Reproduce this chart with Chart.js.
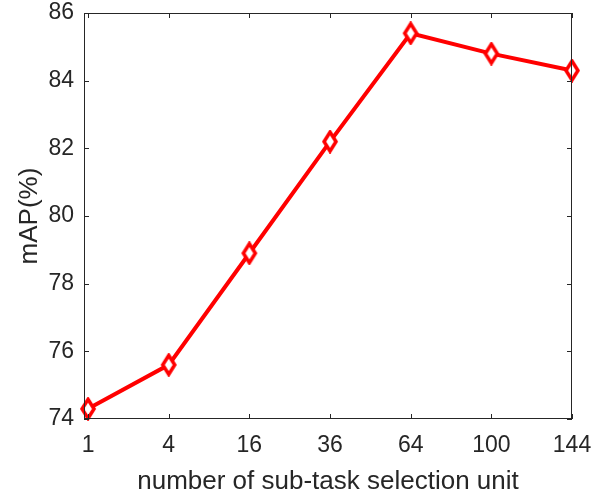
<!DOCTYPE html>
<html>
<head>
<meta charset="utf-8">
<script src="https://cdn.jsdelivr.net/npm/chart.js@4.4.1/dist/chart.umd.min.js"></script>
<style>
  html, body { margin: 0; padding: 0; background: #fff; }
  #wrap { width: 604px; height: 495px; }
</style>
</head>
<body>
<div id="wrap"><canvas id="c" width="604" height="495"></canvas></div>
<script>
// data
const unitLabels = ['1', '4', '16', '36', '64', '100', '144'];
const mapValues = [74.3, 75.6, 78.9, 82.2, 85.4, 84.8, 84.3];
const yTicks = [74, 76, 78, 80, 82, 84, 86];

const AXIS = '#262626';
const RED = '#ff0000';
const FONT = '"Liberation Sans", Arial, sans-serif';

// tall matlab-style diamond marker
function makeDiamond() {
    const w = 18, h = 24;
    const cv = document.createElement('canvas');
    cv.width = w; cv.height = h;
    const g = cv.getContext('2d');
    g.beginPath();
    g.moveTo(w / 2, 2.5); g.lineTo(w - 3, h / 2); g.lineTo(w / 2, h - 2.5); g.lineTo(3, h / 2);
    g.closePath();
    g.fillStyle = '#fff'; g.fill();
    g.lineWidth = 3.5; g.strokeStyle = RED; g.stroke();
    return cv;
}

// box + inward ticks on all four sides
const boxPlugin = {
    id: 'box',
    afterDatasetsDraw(chart) {
        const { ctx, chartArea: a, scales } = chart;
        const L = 5;
        ctx.save();
        ctx.strokeStyle = AXIS; ctx.lineWidth = 1;
        ctx.strokeRect(a.left + 0.5, a.top + 0.5, a.right - a.left - 1, a.bottom - a.top - 1);
        ctx.beginPath();
        scales.x.ticks.forEach((t, i) => {
            const x = Math.round(scales.x.getPixelForTick(i)) + 0.5;
            ctx.moveTo(x, a.bottom); ctx.lineTo(x, a.bottom - L);
            ctx.moveTo(x, a.top); ctx.lineTo(x, a.top + L);
        });
        scales.y.ticks.forEach((t, i) => {
            const y = Math.round(scales.y.getPixelForTick(i)) + 0.5;
            ctx.moveTo(a.left, y); ctx.lineTo(a.left + L, y);
            ctx.moveTo(a.right, y); ctx.lineTo(a.right - L, y);
        });
        ctx.stroke();
        ctx.restore();
    }
};

const points = mapValues.map((v, i) => ({ x: i + 1, y: v }));

new Chart(document.getElementById('c'), {
    type: 'line',
    data: {
        datasets: [{
            data: points,
            borderColor: RED,
            borderWidth: 4,
            tension: 0,
            pointStyle: makeDiamond(),
            pointRadius: 9,
            pointHoverRadius: 9,
            clip: false
        }]
    },
    options: {
        responsive: false,
        animation: false,
        events: [],
        layout: { padding: { top: 13, right: 32, left: 0, bottom: 0 } },
        plugins: { legend: { display: false }, tooltip: { enabled: false } },
        scales: {
            x: {
                type: 'linear',
                min: 0.95, max: 7,
                afterBuildTicks(s) { s.ticks = unitLabels.map((l, i) => ({ value: i + 1 })); },
                afterFit(s) { s.height = 76; s.paddingLeft = 0; s.paddingRight = 0; },
                grid: { display: false, drawTicks: false },
                border: { display: false },
                ticks: {
                    color: AXIS, font: { family: FONT, size: 23 }, padding: 13,
                    maxRotation: 0, autoSkip: false,
                    callback: (v) => unitLabels[Math.round(v) - 1]
                },
                title: {
                    display: true, text: 'number of sub-task selection unit',
                    color: AXIS, font: { family: FONT, size: 26 }, padding: { top: 0, bottom: -2 }
                }
            },
            y: {
                min: 74, max: 86,
                afterBuildTicks(s) { s.ticks = yTicks.map(v => ({ value: v })); },
                afterFit(s) { s.width = 84; s.paddingTop = 0; s.paddingBottom = 0; },
                grid: { display: false, drawTicks: false },
                border: { display: false },
                ticks: { color: AXIS, font: { family: FONT, size: 23 }, padding: 10 },
                title: {
                    display: true, text: 'mAP(%)',
                    color: AXIS, font: { family: FONT, size: 26 }, padding: { top: 14, bottom: 0 }
                }
            }
        }
    },
    plugins: [boxPlugin]
});
</script>
</body>
</html>
